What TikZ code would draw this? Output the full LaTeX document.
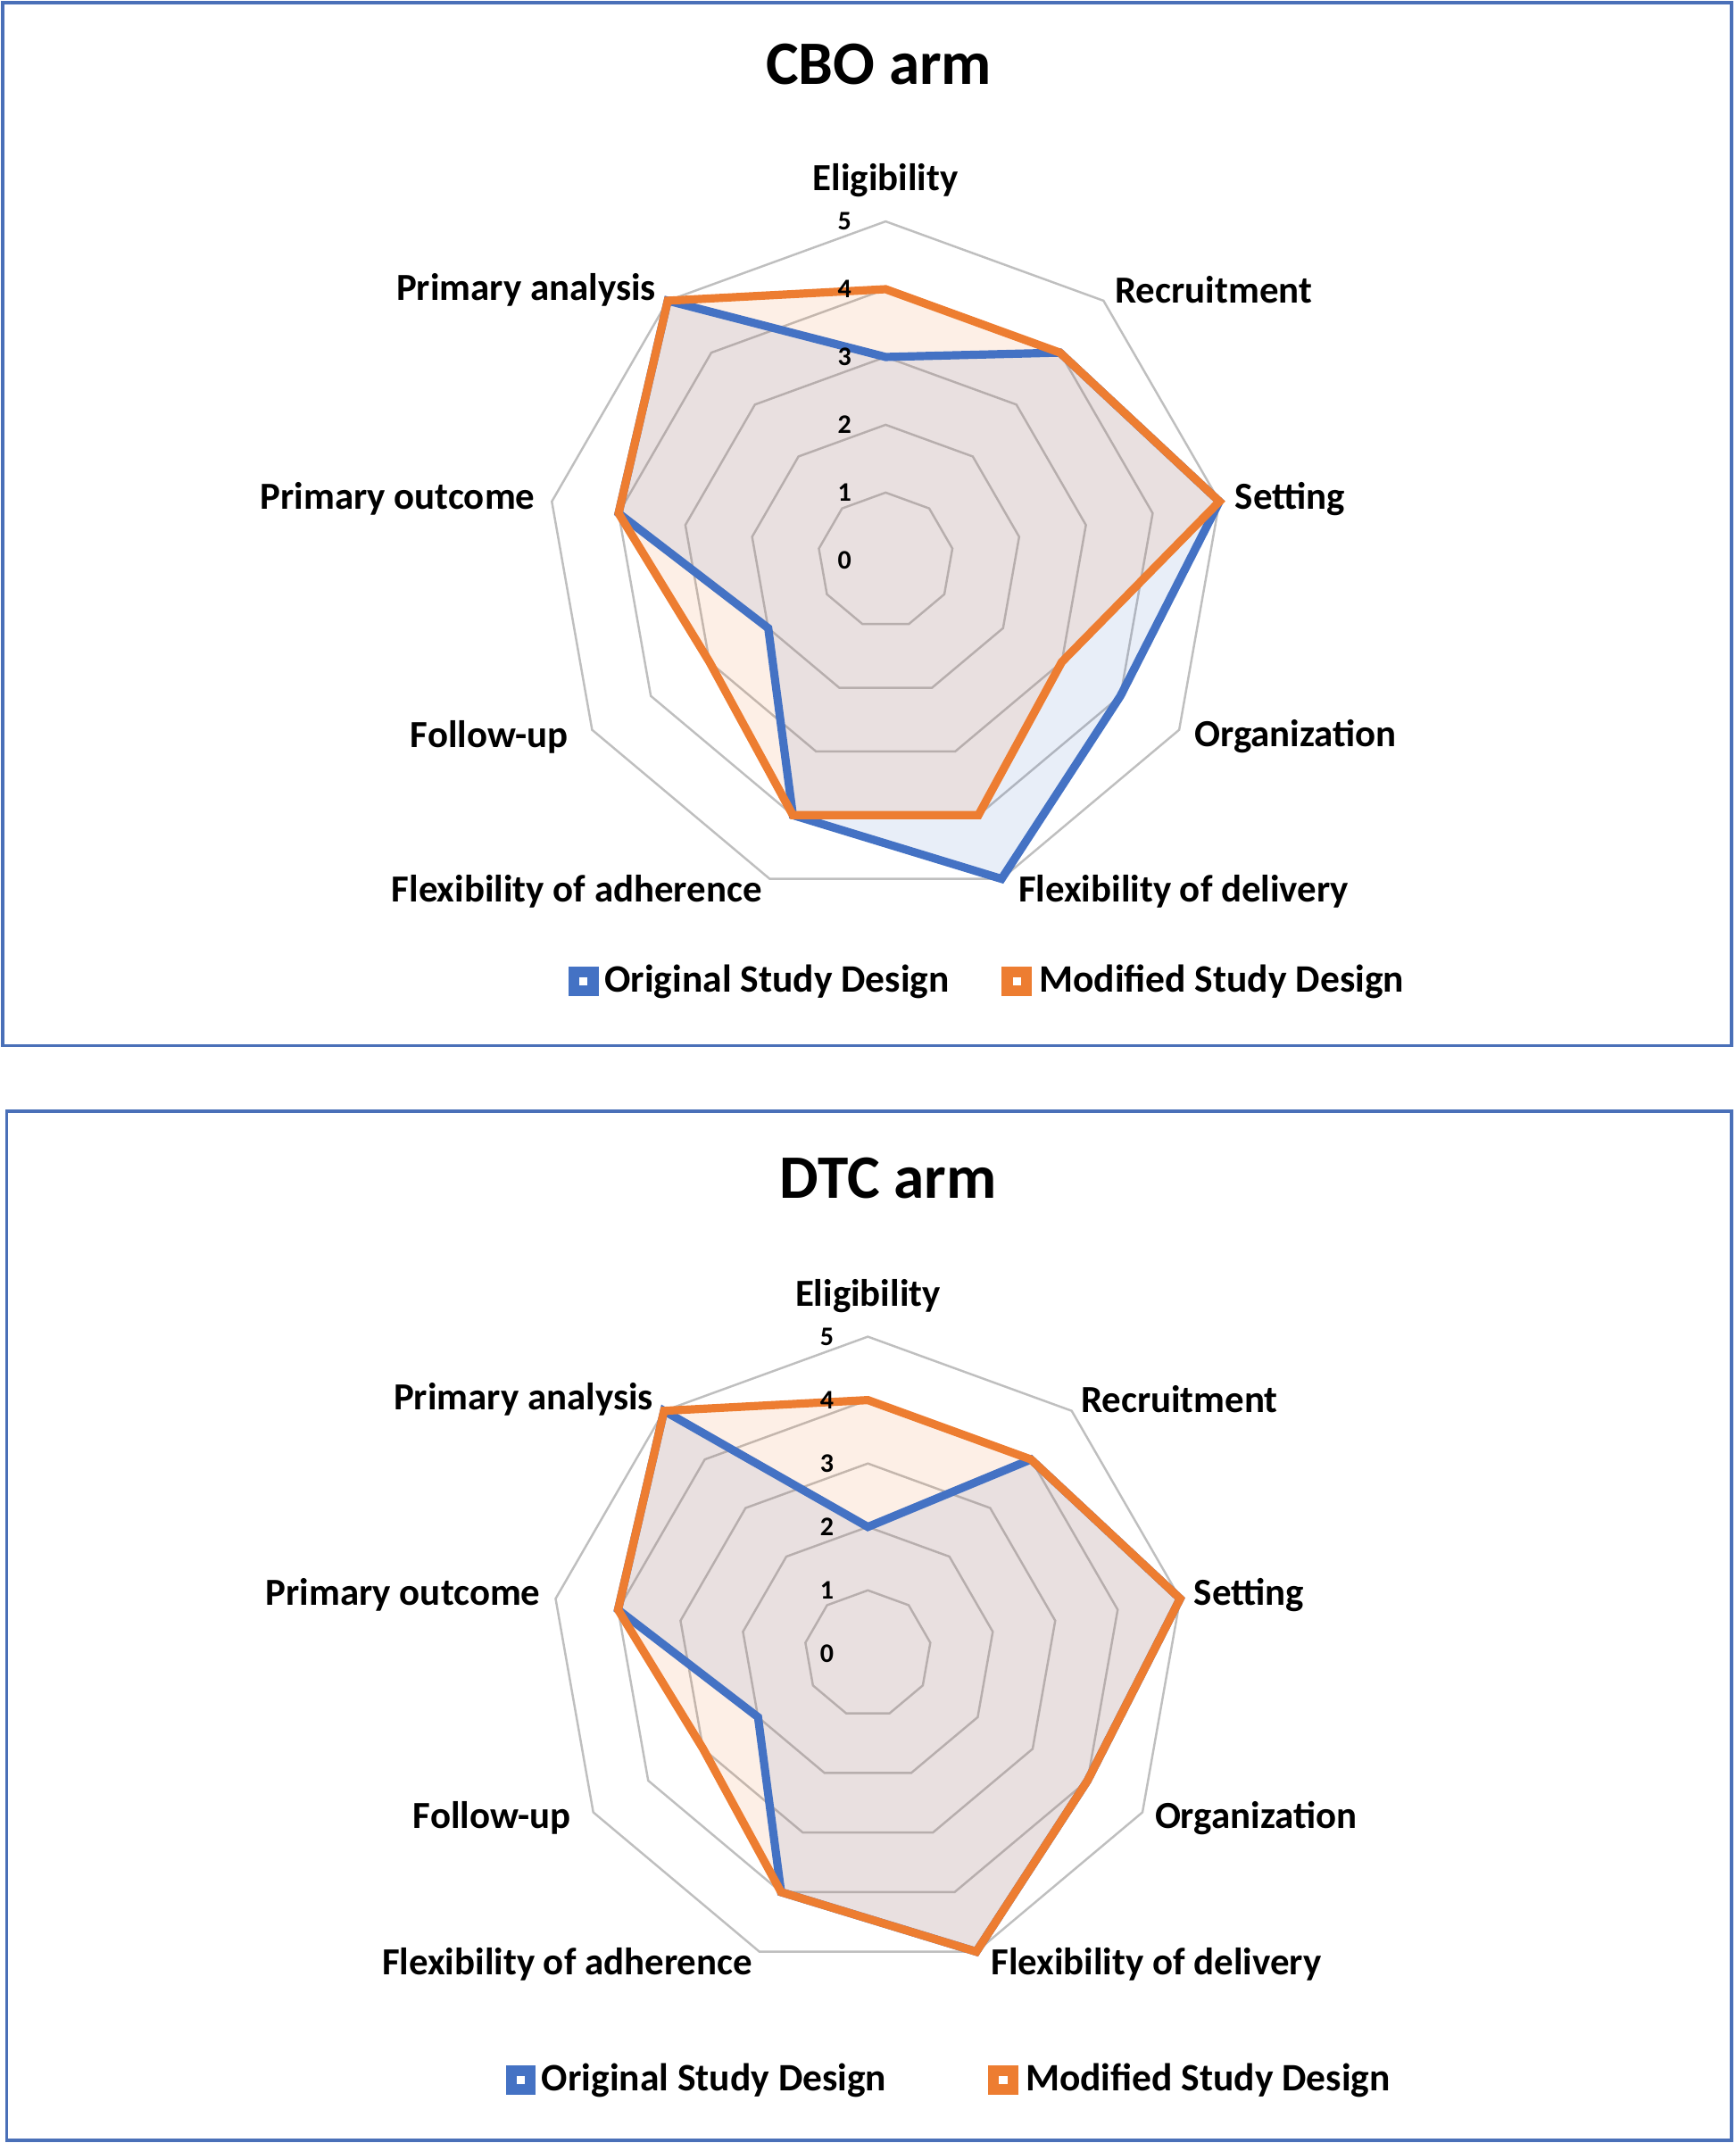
\documentclass[tikz,border=0pt]{standalone}
\usepackage{fontspec}
\setmainfont{Carlito}
\usetikzlibrary{calc}
\definecolor{cblue}{HTML}{4472C4}
\definecolor{corange}{HTML}{ED7D31}
\definecolor{cgrid}{HTML}{BFBFBF}
\definecolor{cframe}{HTML}{4A70B8}
\tikzset{
 lab/.style={font=\bfseries\fontsize{14}{16}\selectfont},
 num/.style={font=\bfseries\fontsize{9.8}{11}\selectfont},
 ttl/.style={font=\bfseries\fontsize{22.6}{26}\selectfont},
 leg/.style={font=\bfseries\fontsize{14.2}{16}\selectfont,anchor=west,inner sep=0pt},
 gridline/.style={draw=cgrid,line width=0.8pt},
 series/.style={line width=3pt,line join=miter},
}
\newcommand{\radarpts}[5]{% prefix, cx, cy, unit, list
 \foreach \v [count=\i] in {#5} {
  \coordinate (#1\i) at ({#2+\v*#4*sin(40*(\i-1))},{#3-\v*#4*cos(40*(\i-1))});
 }}
\newcommand{\chart}[5]{% cx cy unit origlist modlist
 \foreach \k in {1,...,5}{
  \radarpts{g}{#1}{#2}{#3}{\k,\k,\k,\k,\k,\k,\k,\k,\k}
  \draw[gridline] (g1)--(g2)--(g3)--(g4)--(g5)--(g6)--(g7)--(g8)--(g9)--cycle;
 }
 \radarpts{o}{#1}{#2}{#3}{#4}
 \radarpts{m}{#1}{#2}{#3}{#5}
 \fill[cblue,opacity=0.12] (o1)--(o2)--(o3)--(o4)--(o5)--(o6)--(o7)--(o8)--(o9)--cycle;
 \fill[corange,opacity=0.12] (m1)--(m2)--(m3)--(m4)--(m5)--(m6)--(m7)--(m8)--(m9)--cycle;
 \draw[series,cblue] (o1)--(o2)--(o3)--(o4)--(o5)--(o6)--(o7)--(o8)--(o9)--cycle;
 \draw[series,corange] (m1)--(m2)--(m3)--(m4)--(m5)--(m6)--(m7)--(m8)--(m9)--cycle;
 \foreach \k in {0,...,5}{
  \node[num] at ({#1-30},{#2-\k*#3}) {\k};
 }}
\newcommand{\legmark}[3]{% x y color
 \fill[#3] ({#1-11},{#2-11}) rectangle ({#1+11},{#2+11});
 \fill[white] ({#1-3},{#2-3}) rectangle ({#1+3},{#2+3});}
\begin{document}
\begin{tikzpicture}[x=0.5pt,y=-0.5pt]
\useasboundingbox (0,0) rectangle (1270,1568);
% top panel
\draw[cframe,line width=1.2pt] (2,2) rectangle (1267,765);
\node[ttl] (t1) at (643,47) {CBO arm};
\chart{648}{410}{49.6}{3,4,5,4,5,4,2,4,5}{4,4,5,3,4,4,3,4,5}
\node[lab] (a1) at (648,132) {Eligibility};
\node[lab] (a2) at (888,212) {Recruitment};
\node[lab] (a3) at (944,365) {Setting};
\node[lab] (a4) at (948,539) {Organization};
\node[lab] (a5) at (866,652) {Flexibility of delivery};
\node[lab] (a6) at (422,652) {Flexibility of adherence};
\node[lab] (a7) at (358,539) {Follow-up};
\node[lab] (a8) at (291,365) {Primary outcome};
\node[lab] (a9) at (385,212) {Primary analysis};
\legmark{427}{718}{cblue}
\node[leg] (l1) at (442,718) {Original Study Design};
\legmark{744}{718}{corange}
\node[leg] (l2) at (760,718) {Modified Study Design};
% bottom panel
\draw[cframe,line width=1.2pt] (5,813) rectangle (1267,1566);
\node[ttl] (t2) at (650,862) {DTC arm};
\chart{635}{1210}{46.4}{2,4,5,4,5,4,2,4,5}{4,4,5,4,5,4,3,4,5}
\node[lab] (b1) at (635,948) {Eligibility};
\node[lab] (b2) at (863,1024) {Recruitment};
\node[lab] (b3) at (914,1167) {Setting};
\node[lab] (b4) at (919,1330) {Organization};
\node[lab] (b5) at (846,1437) {Flexibility of delivery};
\node[lab] (b6) at (415,1437) {Flexibility of adherence};
\node[lab] (b7) at (360,1330) {Follow-up};
\node[lab] (b8) at (295,1167) {Primary outcome};
\node[lab] (b9) at (383,1024) {Primary analysis};
\legmark{381}{1522}{cblue}
\node[leg] (l3) at (396,1522) {Original Study Design};
\legmark{734}{1522}{corange}
\node[leg] (l4) at (750,1522) {Modified Study Design};
\end{tikzpicture}
\end{document}
